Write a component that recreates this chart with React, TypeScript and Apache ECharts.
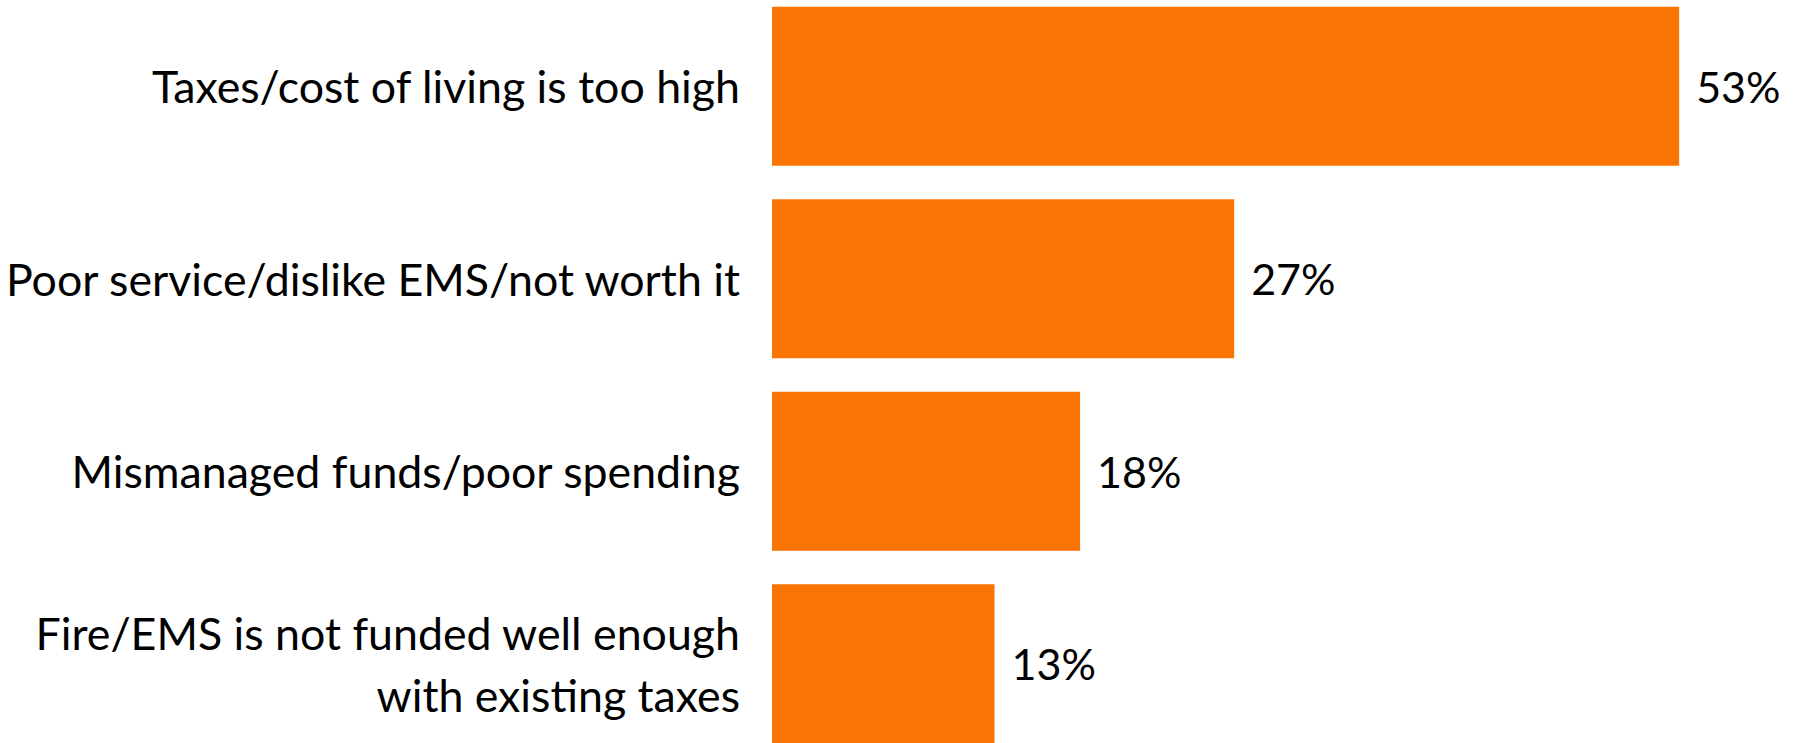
import React, { useEffect, useRef } from "react";
import * as echarts from "echarts";

const categories: string[] = [
  "Taxes/cost of living is too high",
  "Poor service/dislike EMS/not worth it",
  "Mismanaged funds/poor spending",
  "Fire/EMS is not funded well enough\nwith existing taxes",
];
const values: number[] = [53, 27, 18, 13];

const FONT = "Lato";
const FS = 44.7;
const FS_VAL = 43;

export default function App() {
  const ref = useRef<HTMLDivElement>(null);
  useEffect(() => {
    if (!ref.current) return;
    const chart = echarts.init(ref.current, undefined, { renderer: "svg" });
    chart.setOption({
      animation: false,
      backgroundColor: "#ffffff",
      grid: {
        left: 772,
        top: -10,
        width: 1027,
        height: 770,
        containLabel: false,
        outerBoundsMode: "none",
      },
      xAxis: {
        type: "value",
        min: 0,
        max: 60,
        show: false,
      },
      yAxis: {
        type: "category",
        data: categories,
        inverse: true,
        axisLine: { show: false },
        axisTick: { show: false },
        splitLine: { show: false },
        axisLabel: {
          color: "#000000",
          fontFamily: FONT,
          fontSize: FS,
          margin: 32,
          align: "right",
          lineHeight: 62,
        },
      },
      series: [
        {
          type: "bar",
          data: values,
          barWidth: 159,
          itemStyle: { color: "#F97403" },
          label: {
            show: true,
            position: "right",
            distance: 17,
            formatter: "{c}%",
            color: "#000000",
            fontFamily: FONT,
            fontSize: FS_VAL,
          },
        },
      ],
    });
    return () => chart.dispose();
  }, []);
  return (
    <div
      ref={ref}
      style={{ position: "absolute", left: 0, top: 0, width: 1796, height: 743 }}
    />
  );
}
